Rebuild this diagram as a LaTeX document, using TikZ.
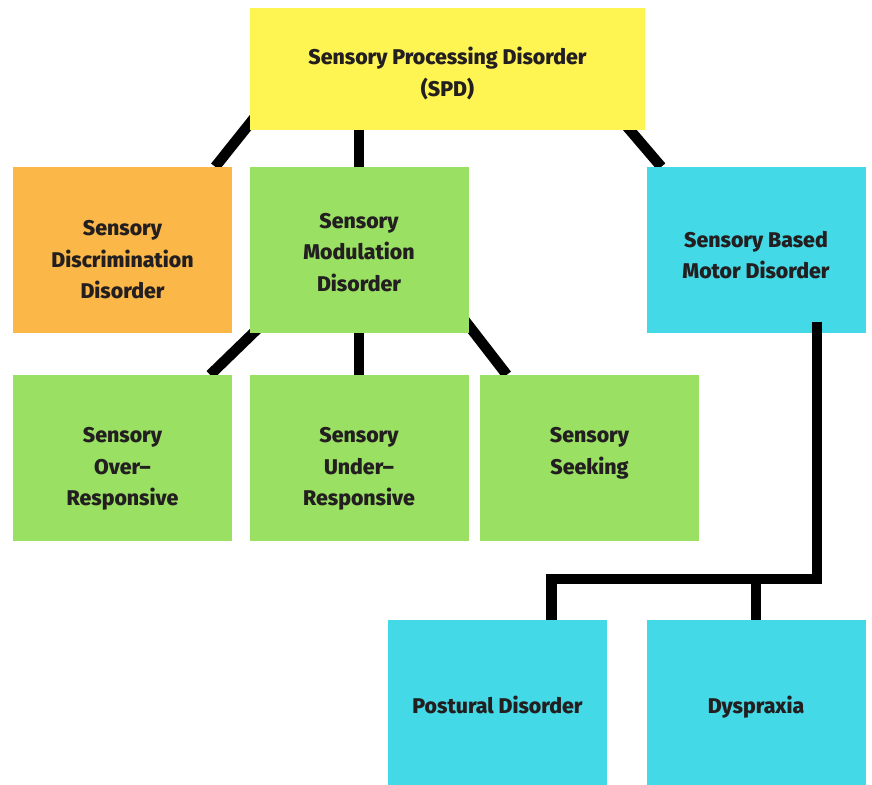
\documentclass[tikz,border=0pt]{standalone}
\usepackage{fontspec}
\setmainfont{Fira Sans}[BoldFont={Fira Sans ExtraBold}]
\usepackage{xcolor}
\usepackage{tikz}
\usetikzlibrary{backgrounds}

\definecolor{spdyellow}{HTML}{FEF452}
\definecolor{sddorange}{HTML}{FBB848}
\definecolor{smdgreen}{HTML}{9AE063}
\definecolor{sbmdcyan}{HTML}{44D9E6}
\definecolor{txtdark}{HTML}{231F20}

\tikzset{
  box/.style={rectangle,inner sep=0pt,text=txtdark,align=center,
    font=\fontsize{21.3bp}{31.5bp}\selectfont\bfseries},
  small/.style={box,minimum width=219bp,minimum height=166bp},
  lift/.style={text depth=#1},
  sink/.style={text height=#1},
  conn/.style={line width=10.5bp,black}
}

\begin{document}
\begin{tikzpicture}
    \useasboundingbox (0bp,0bp) rectangle (872bp,-785bp);
    \node (SPD) at (447.5bp,-69bp)[box,fill=spdyellow,minimum width=395bp,minimum height=122bp,sink=58bp] {Sensory Processing Disorder\\(SPD)};
    \node (SDD) at (122.5bp,-250bp)[small,fill=sddorange,sink=98bp] {Sensory\\Discrimination\\Disorder};
    \node (SMD) at (359bp,-250bp)[small,fill=smdgreen,sink=83bp] {Sensory\\Modulation\\Disorder};
    \node (SBMD) at (756bp,-250bp)[small,fill=sbmdcyan,sink=57.5bp] {Sensory Based\\Motor Disorder};
    \node (SOR) at (122.5bp,-458bp)[small,fill=smdgreen,sink=100bp] {Sensory\\Over--\\Responsive};
    \node (SUR) at (359bp,-458bp)[small,fill=smdgreen,sink=100bp] {Sensory\\Under--\\Responsive};
    \node (SS) at (589.5bp,-458bp)[small,fill=smdgreen,lift=14bp] {Sensory\\Seeking};
    \node (PD) at (497.5bp,-702.5bp)[small,fill=sbmdcyan,minimum height=165bp,sink=22bp] {Postural Disorder};
    \node (DY) at (756bp,-702.5bp)[small,fill=sbmdcyan,minimum height=165bp,sink=27bp] {Dyspraxia};
    \begin{pgfonlayer}{background}
    \draw [conn] ([xshift=5bp,yshift=13bp]SPD.south west) to ([xshift=-17bp]SDD.north east);
    \draw [conn] (SMD.north) to (SMD.north |- SPD.south);
    \draw [conn] ([xshift=-22bp,yshift=8bp]SPD.south east) to ([xshift=15bp]SBMD.north west);
    \draw [conn] ([xshift=11bp,yshift=7bp]SMD.south west) to ([xshift=-22bp]SOR.north east);
    \draw [conn] (SUR.north) to (SMD.south);
    \draw [conn] ([xshift=-8bp,yshift=18bp]SMD.south east) to ([xshift=27bp]SS.north west);
    \end{pgfonlayer}
    \coordinate (elbow) at (817bp,-579bp);
    \draw [conn] ([xshift=61bp,yshift=11bp]SBMD.south) to (elbow) -| ([xshift=54bp]PD.north);
    \draw [conn] (DY.north) to (DY.north |- elbow);
\end{tikzpicture}
\end{document}
